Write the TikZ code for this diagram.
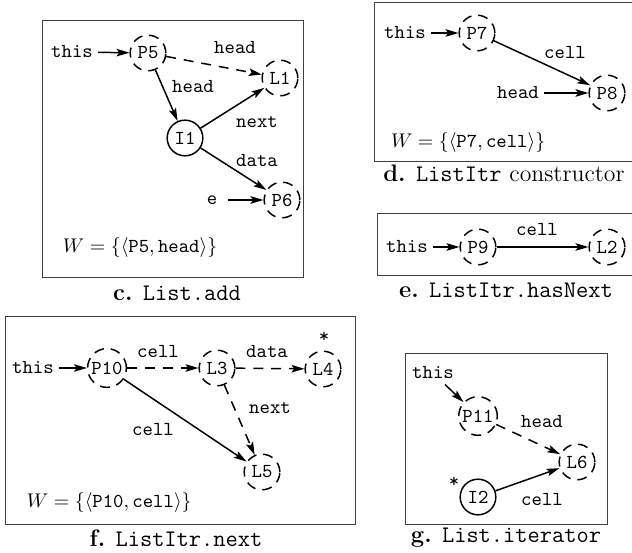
\documentclass[tikz,border=0pt]{standalone}
\usepackage{amsmath}
\usepackage{tikz}
\usetikzlibrary{arrows.meta}
\tikzstyle{loc} = [circle, draw=black, dash pattern=on 5pt off 3.5pt, line width=0.75pt, minimum size=18pt, inner sep=1pt, font=\ttfamily]
\tikzstyle{obj} = [circle, draw=black, line width=0.75pt, minimum size=18pt, inner sep=1pt, font=\ttfamily]
\tikzstyle{var} = [inner sep=2.5pt, font=\ttfamily]
\tikzstyle{lbl} = [inner sep=1pt, font=\ttfamily]
\tikzstyle{arrow} = [line width=0.75pt, -{Stealth[length=6.5pt, width=3.8pt, inset=1.3pt]}]
\tikzstyle{may} = [arrow, dash pattern=on 5pt off 4pt]
\tikzstyle{panel} = [draw=black!75, line width=0.5pt]
\tikzstyle{caption} = [font=\fontsize{12}{14}\selectfont]

\begin{document}
\begin{tikzpicture}[x=0.505pt, y=-0.505pt]
	\clip (0,0) rectangle (632,553);

	% c. List.add
	\draw [panel] (42,21) rectangle (303,277);
	\node (cthis) [var] at (72,52) {this};
	\node (p5) [loc] at (148,53) {P5};
	\node (l1) [loc] at (280,78) {L1};
	\node (i1) [obj] at (185,138) {I1};
	\node (p6) [loc] at (282,200) {P6};
	\node (ce) [var] at (212,200) {e};
	\node (chead1) [lbl] at (235,48) {head};
	\node (chead2) [lbl] at (193,87) {head};
	\node (cnext) [lbl] at (257,122) {next};
	\node (cdata) [lbl] at (257,161) {data};
	\node (cw) [anchor=west] at (56,248) {$W=\{\langle\texttt{P5},\texttt{head}\rangle\}$};
	\node (ccap) [caption] at (177,293) {\textbf{c.} \texttt{List.add}};

	\draw [arrow] (cthis) -- (p5);
	\draw [may] (p5) -- (l1);
	\draw [arrow] (p5) -- (i1);
	\draw [arrow] (i1) -- (l1);
	\draw [arrow] (i1) -- (p6);
	\draw [arrow, shorten <=3pt] (ce) -- (p6);

	% d. ListItr constructor
	\draw [panel] (374,3) rectangle (640,162);
	\node (dthis) [var] at (405,33) {this};
	\node (p7) [loc] at (477,33) {P7};
	\node (p8) [loc] at (607,93) {P8};
	\node (dhead) [var] at (518,93) {head};
	\node (dcell) [lbl] at (565,53) {cell};
	\node (dw) [anchor=west] at (384,143) {$W=\{\langle\texttt{P7},\texttt{cell}\rangle\}$};
	\node (dcap) [caption] at (504,173) {\textbf{d.} \texttt{ListItr} constructor};

	\draw [arrow] (dthis) -- (p7);
	\draw [arrow] (p7) -- (p8);
	\draw [arrow] (dhead) -- (p8);

	% e. ListItr.hasNext
	\draw [panel] (377,213) rectangle (640,275);
	\node (ethis) [var] at (407,247) {this};
	\node (p9) [loc] at (478,247) {P9};
	\node (l2) [loc] at (607,247) {L2};
	\node (ecell) [lbl] at (537,230) {cell};
	\node (ecap) [caption] at (506,290) {\textbf{e.} \texttt{ListItr.hasNext}};

	\draw [arrow] (ethis) -- (p9);
	\draw [arrow] (p9) -- (l2);

	% f. ListItr.next
	\draw [panel] (5,316) rectangle (355,524);
	\node (fthis) [var] at (33,368) {this};
	\node (p10) [loc] at (107,368) {P10};
	\node (l3) [loc] at (217,368) {L3};
	\node (l4) [loc] at (323,369) {L4};
	\node (fstar) [var] at (324,337) {*};
	\node (l5) [loc] at (262,472) {L5};
	\node (fcell1) [lbl] at (158,352) {cell};
	\node (fdata) [lbl] at (267,352) {data};
	\node (fnext) [lbl] at (270,408) {next};
	\node (fcell2) [lbl] at (153,430) {cell};
	\node (fw) [anchor=west] at (20,503) {$W=\{\langle\texttt{P10},\texttt{cell}\rangle\}$};
	\node (fcap) [caption] at (176,538) {\textbf{f.} \texttt{ListItr.next}};

	\draw [arrow] (fthis) -- (p10);
	\draw [may] (p10) -- (l3);
	\draw [may] (l3) -- (l4);
	\draw [may] (l3) -- (l5);
	\draw [arrow] (p10) -- (l5);

	% g. List.iterator
	\draw [panel] (405,353) rectangle (607,524);
	\node (gthis) [var] at (433,373) {this};
	\node (p11) [loc] at (478,416) {P11};
	\node (l6) [loc] at (577,462) {L6};
	\node (i2) [obj] at (478,497) {I2};
	\node (gstar) [var] at (454,482) {*};
	\node (ghead) [lbl] at (542,422) {head};
	\node (gcell) [lbl] at (542,500) {cell};
	\node (gcap) [caption] at (506,538) {\textbf{g.} \texttt{List.iterator}};

	\draw [arrow] (gthis) -- (p11);
	\draw [may] (p11) -- (l6);
	\draw [arrow] (i2) -- (l6);

\end{tikzpicture}
\end{document}
